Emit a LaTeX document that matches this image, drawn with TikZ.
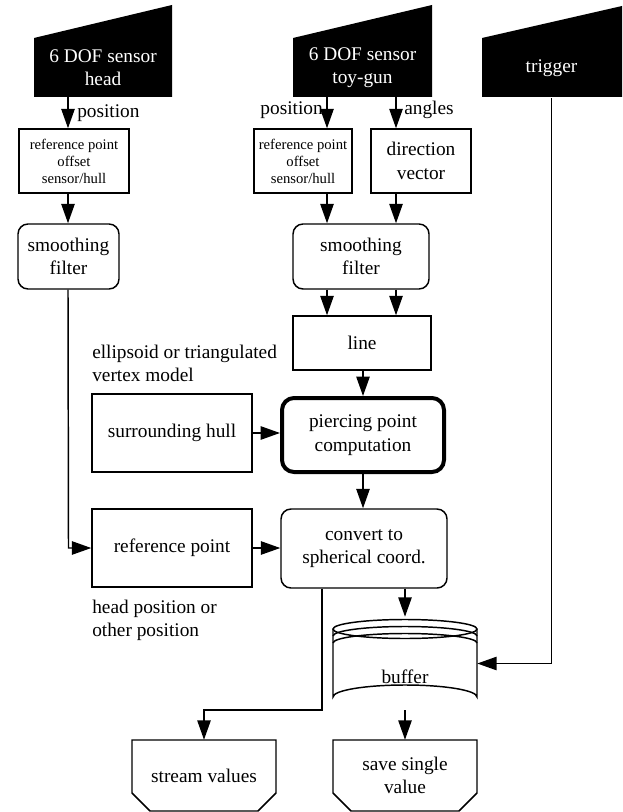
\documentclass[tikz,border=0pt]{standalone}
\usepackage{fontspec}
\setmainfont{Liberation Serif}
\usetikzlibrary{arrows.meta}
\begin{document}
\begin{tikzpicture}[x=0.75pt,y=-0.75pt,
  wh/.style 2 args={minimum width={#1*0.75pt},minimum height={#2*0.75pt},inner sep=0pt},
  txt/.style={font=\fontsize{14.5}{17.5}\selectfont, align=center},
  small/.style={font=\fontsize{11}{12.8}\selectfont, align=center},
  plainbox/.style={draw, line width=1.1pt, txt},
  roundbox/.style={plainbox, rounded corners=7.5pt},
  thickbox/.style={draw, line width=3pt, rounded corners=9pt, txt},
  ghost/.style={txt, inner sep=0pt},
  lbl/.style={txt, inner sep=0pt, align=left},
  shapeline/.style={line width=1.1pt},
  arr/.style={line width=1.1pt, -{Triangle[length=14.5pt,width=10pt]}},
  conn/.style={line width=1.1pt}
]
\useasboundingbox (0,0) rectangle (622,812);

% ---- input sensors (manual input shapes)
\fill (34,97) -- (172,97) -- (172,5) -- (34,38) -- cycle;
\node[ghost, wh={138}{59}, text=white] (headS) at (103,67.5) {6 DOF sensor\\head};
\fill (293,97) -- (432,97) -- (432,5) -- (293,38) -- cycle;
\node[ghost, wh={139}{59}, text=white] (gunS) at (362.5,67.5) {6 DOF sensor\\toy-gun};
\fill (482,97) -- (622,97) -- (622,6) -- (482,38) -- cycle;
\node[ghost, wh={139}{59}, text=white] (trigS) at (551.5,68.5) {trigger};

% ---- boxes
\node[plainbox, small, wh={110}{64}] (off1) at (74,161) {reference point\\offset\\sensor/hull};
\node[roundbox, wh={101}{65}] (filt1) at (68.5,256.5) {smoothing\\filter};
\node[plainbox, small, wh={98}{64}] (off2) at (303,161) {reference point\\offset\\sensor/hull};
\node[plainbox, wh={100}{64}] (dirv) at (421,161) {direction\\vector};
\node[roundbox, wh={136}{65}] (filt2) at (361,256.5) {smoothing\\filter};
\node[plainbox, wh={138}{54}] (line) at (362,343) {line};
\node[thickbox, wh={162}{74}] (pierce) at (363,435) {piercing point\\computation};
\node[plainbox, wh={160}{78}] (hull) at (172,433) {surrounding hull};
\node[plainbox, wh={160}{78}] (refp) at (172,548) {reference point};
\node[roundbox, wh={166}{79}] (conv) at (364,548.5) {convert to\\spherical coord.};

% ---- buffer (stored data)
\node[ghost, wh={144}{93}] (buf) at (405,663.5) {};
\draw[shapeline] (333,629) -- (333,697) arc[start angle=180,end angle=360,x radius=72,y radius=12] -- (477,629);
\draw[shapeline, fill=white] (405,629) ellipse[x radius=72,y radius=9.5];
\draw[shapeline] (333,636) arc[start angle=180,end angle=360,x radius=72,y radius=9.5];
\draw[shapeline] (333,643) arc[start angle=180,end angle=360,x radius=72,y radius=9.5];
\node[txt] (buflabel) at (405,677) {buffer};

% ---- outputs
\draw[shapeline] (132,740) -- (276,740) -- (276,793) -- (258,811) -- (150,811) -- (132,793) -- cycle;
\node[ghost, wh={144}{71}] (stream) at (204,775.5) {stream values};
\draw[shapeline] (333,740) -- (477,740) -- (477,793) -- (459,811) -- (351,811) -- (333,793) -- cycle;
\node[ghost, wh={144}{71}] (save) at (405,775.5) {save single\\value};

% ---- free labels
\node[lbl, anchor=west] (posA) at (77,113) {position};
\node[lbl, anchor=east] (posB) at (323,110) {position};
\node[lbl, anchor=west] (angl) at (404,110) {angles};
\node[lbl, anchor=west] (ellip) at (92,363.5) {ellipsoid or triangulated\\vertex model};
\node[lbl, anchor=west] (headp) at (92,620.5) {head position or\\other position};

% ---- connector columns
\coordinate (cH) at (68,0);
\coordinate (cA) at (327,0);
\coordinate (cB) at (396,0);
\coordinate (cS) at (322,0);
\coordinate (sTurn) at (322,710);

% ---- connectors
\draw[arr] (headS.south -| cH) -- (off1.north -| cH);
\draw[arr] (off1.south -| cH) -- (filt1.north -| cH);
\draw[arr] (filt1.south -| cH) -- (filt1.south |- refp.west) -- (refp.west);
\draw[arr] (gunS.south -| cA) -- (off2.north -| cA);
\draw[arr] (gunS.south -| cB) -- (dirv.north -| cB);
\draw[arr] (off2.south -| cA) -- (filt2.north -| cA);
\draw[arr] (dirv.south -| cB) -- (filt2.north -| cB);
\draw[arr] (filt2.south -| cA) -- (line.north -| cA);
\draw[arr] (filt2.south -| cB) -- (line.north -| cB);
\draw[arr] (line.south) -- (pierce.north |- line.south) -- (pierce.north);
\draw[arr] (hull.east) -- (hull.east -| pierce.west);
\draw[arr] (pierce.south) -- (pierce.south |- conv.north);
\draw[arr] (refp.east) -- (refp.east -| conv.west);
\draw[arr] (conv.south -| buf.north) -- (buf.north);
\draw[arr] (trigS.south) -- (trigS.south |- buf.east) -- (buf.east);
\draw[arr] (buf.south) -- (save.north);
\draw[arr] (conv.south -| cS) -- (sTurn) -- (sTurn -| stream.north) -- (stream.north);
\end{tikzpicture}
\end{document}
